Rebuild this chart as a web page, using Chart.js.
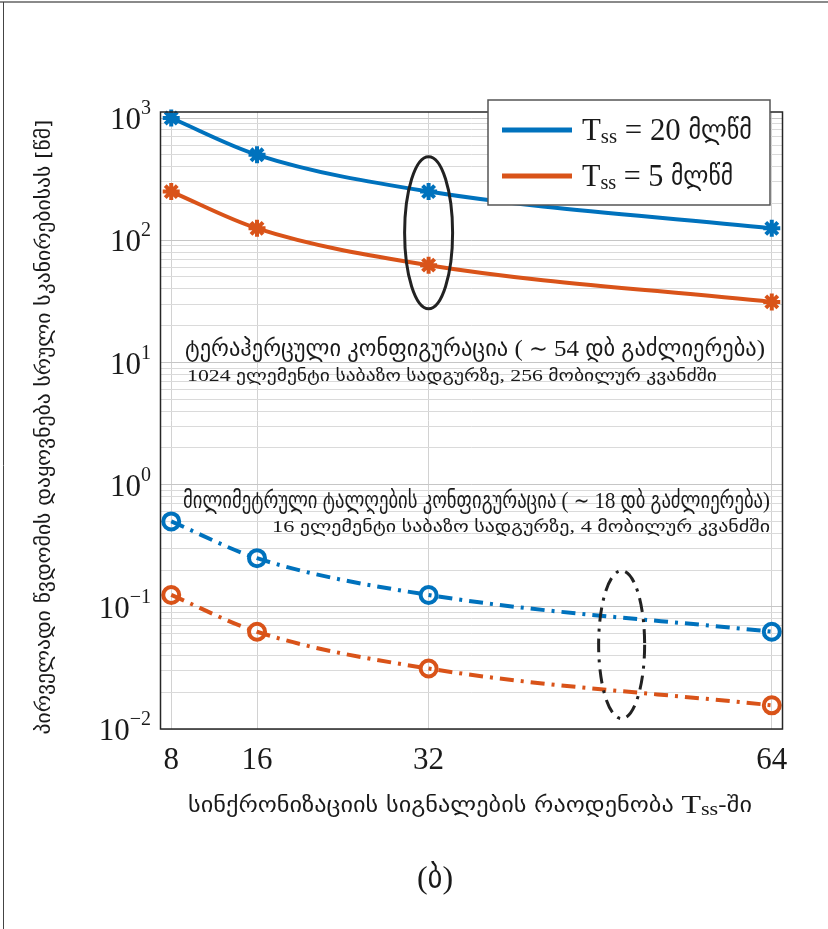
<!DOCTYPE html>
<html><head><meta charset="utf-8">
<script src="https://cdn.jsdelivr.net/npm/chart.js@4/dist/chart.umd.min.js"></script>
<style>html,body{margin:0;padding:0;background:#fff;}#wrap{position:relative;width:828px;height:929px;}</style>
</head><body><div id="wrap"><canvas id="c" width="828" height="929"></canvas></div>
<script>
// ---- data ----
const tssCounts = [8, 16, 32, 64];
const thz20ms = [1000, 500, 250, 125];
const thz5ms = [250, 125, 62.5, 31.25];
const mmw20ms = [0.5, 0.25, 0.125, 0.0625];
const mmw5ms = [0.125, 0.0625, 0.03125, 0.015625];
const yDecades = [-2, -1, 0, 1, 2, 3];
const yTickExponents = ['\u22122', '\u22121', '0', '1', '2', '3'];
const legendValues = ['20', '5'];
const legendUnit = 'მლწმ';

// ---- styles ----
const BLUE = '#0072BD', ORANGE = '#D95319', INK = '#1a1a1a';
const SERIF = "'Liberation Serif', 'DejaVu Sans Condensed', serif";
const GEO = "'DejaVu Sans Condensed', 'DejaVu Sans', sans-serif";
const DASHDOT = [14, 7, 3, 7];

function pts(ys) { return tssCounts.map((x, i) => ({ x: x, y: ys[i] })); }

function drawRuns(ctx, runs, x, y, width, align) {
  ctx.save();
  let total = 0;
  runs.forEach(r => { ctx.font = r.font; r.w = ctx.measureText(r.text).width; total += r.w; });
  const s = width ? width / total : 1;
  const drawnW = total * s;
  let x0 = align === 'center' ? x - drawnW / 2 : (align === 'right' ? x - drawnW : x);
  ctx.translate(x0, y);
  ctx.scale(s, 1);
  ctx.textBaseline = 'middle';
  ctx.textAlign = 'left';
  ctx.fillStyle = INK;
  let cx = 0;
  runs.forEach(r => { ctx.font = r.font; ctx.fillText(r.text, cx, r.dy || 0); cx += r.w; });
  ctx.restore();
}

const ellipseTHz = { x: 32, y: 115, rx: 24, ry: 76 };
const ellipseMMW = { x: 50, y: 0.049, rx: 23, ry: 74 };

const deco = {
  id: 'deco',
  beforeDraw(chart) {
    const ctx = chart.ctx;
    ctx.save();
    ctx.fillStyle = '#fff';
    ctx.fillRect(0, 0, chart.width, chart.height);
    ctx.strokeStyle = '#8a8a8a'; ctx.lineWidth = 2;
    ctx.beginPath(); ctx.moveTo(0, 2); ctx.lineTo(chart.width, 2); ctx.stroke();
    ctx.strokeStyle = '#444'; ctx.lineWidth = 1;
    ctx.beginPath(); ctx.moveTo(3.5, 2); ctx.lineTo(3.5, chart.height); ctx.stroke();
    ctx.restore();
  },
  afterDatasetsDraw(chart) {
    const ctx = chart.ctx, xs = chart.scales.x, ys = chart.scales.y;
    ctx.save();
    ctx.strokeStyle = '#222'; ctx.lineWidth = 3;
    ctx.beginPath();
    ctx.ellipse(xs.getPixelForValue(ellipseTHz.x), ys.getPixelForValue(ellipseTHz.y), ellipseTHz.rx, ellipseTHz.ry, 0, 0, Math.PI * 2);
    ctx.stroke();
    ctx.setLineDash([14, 7, 3, 7]);
    ctx.beginPath();
    ctx.ellipse(xs.getPixelForValue(ellipseMMW.x), ys.getPixelForValue(ellipseMMW.y), ellipseMMW.rx, ellipseMMW.ry, 0, 0, Math.PI * 2);
    ctx.stroke();
    ctx.restore();

    // y tick labels (10 with superscript exponent), placed by the log scale
    yDecades.forEach((d, i) => {
      const py = ys.getPixelForValue(Math.pow(10, d));
      drawRuns(ctx, [
        { text: '10', font: '31px ' + SERIF, dy: 3 },
        { text: yTickExponents[i], font: '20px ' + SERIF, dy: -9 }
      ], 151, py, 0, 'right');
    });

    drawRuns(ctx, [{ text: 'ტერაჰერცული კონფიგურაცია ( ∼ 54 დბ გაძლიერება)', font: '23px ' + SERIF }], 185, 350, 580, 'left');
    drawRuns(ctx, [{ text: '1024 ელემენტი საბაზო სადგურზე, 256 მობილურ კვანძში', font: '16px ' + SERIF }], 187, 377, 530, 'left');
    drawRuns(ctx, [{ text: 'მილიმეტრული ტალღების კონფიგურაცია ( ∼ 18 დბ გაძლიერება)', font: '23px ' + SERIF }], 183, 502, 587, 'left');
    drawRuns(ctx, [{ text: '16 ელემენტი საბაზო სადგურზე, 4 მობილურ კვანძში', font: '16px ' + SERIF }], 770, 528, 498, 'right');

    // x title
    drawRuns(ctx, [
      { text: 'სინქრონიზაციის სიგნალების რაოდენობა ', font: '22px ' + GEO },
      { text: 'T', font: '26px ' + SERIF },
      { text: 'ss', font: '18px ' + SERIF, dy: 4 },
      { text: '-ში', font: '22px ' + GEO }
    ], 188, 806, 564, 'left');
    // figure label
    drawRuns(ctx, [{ text: '(ბ)', font: '32px ' + SERIF }], 435, 880, 0, 'center');
    // y title
    ctx.save();
    ctx.translate(45, 427);
    ctx.rotate(-Math.PI / 2);
    drawRuns(ctx, [{ text: 'პირველადი წვდომის დაყოვნება სრული სკანირებისას [წმ]', font: '20px ' + GEO }], 0, 0, 615, 'center');
    ctx.restore();
  },
  afterDraw(chart) {
    const ctx = chart.ctx, a = chart.chartArea;
    ctx.save();
    ctx.strokeStyle = '#262626'; ctx.lineWidth = 1.5;
    ctx.strokeRect(a.left, a.top, a.right - a.left, a.bottom - a.top);
    // legend
    const L = { x: 488, y: 100, w: 282, h: 105 };
    ctx.fillStyle = '#fff';
    ctx.fillRect(L.x, L.y, L.w, L.h);
    ctx.strokeStyle = '#555'; ctx.lineWidth = 1.5;
    ctx.strokeRect(L.x, L.y, L.w, L.h);
    const rows = [{ c: BLUE, y: 130, w: 170 }, { c: ORANGE, y: 176, w: 151 }];
    rows.forEach((r, i) => {
      ctx.strokeStyle = r.c; ctx.lineWidth = 5;
      ctx.beginPath(); ctx.moveTo(502, r.y); ctx.lineTo(572, r.y); ctx.stroke();
      drawRuns(ctx, [
        { text: 'T', font: '31px ' + SERIF },
        { text: 'ss', font: '21px ' + SERIF, dy: 5 },
        { text: ' = ' + legendValues[i] + ' ', font: '31px ' + SERIF },
        { text: legendUnit, font: '27px ' + GEO }
      ], 582, r.y + 2, r.w, 'left');
    });
    ctx.restore();
  }
};

const lineBase = { borderWidth: 4, cubicInterpolationMode: 'monotone', clip: false, pointRadius: 8, pointBorderWidth: 3.5, pointHoverRadius: 8 };

new Chart(document.getElementById('c'), {
  type: 'line',
  data: {
    datasets: [
      Object.assign({}, lineBase, { label: 'THz 20', data: pts(thz20ms), borderColor: BLUE, pointStyle: 'star', pointRadius: 8.5, pointBorderWidth: 4, pointBorderColor: BLUE, pointBackgroundColor: BLUE }),
      Object.assign({}, lineBase, { label: 'THz 5', data: pts(thz5ms), borderColor: ORANGE, pointStyle: 'star', pointRadius: 8.5, pointBorderWidth: 4, pointBorderColor: ORANGE, pointBackgroundColor: ORANGE }),
      Object.assign({}, lineBase, { label: 'mmW 20', data: pts(mmw20ms), borderColor: BLUE, borderDash: DASHDOT, pointStyle: 'circle', pointRadius: 8, pointBorderWidth: 4, pointBorderColor: BLUE, pointBackgroundColor: 'rgba(0,0,0,0)' }),
      Object.assign({}, lineBase, { label: 'mmW 5', data: pts(mmw5ms), borderColor: ORANGE, borderDash: DASHDOT, pointStyle: 'circle', pointRadius: 8, pointBorderWidth: 4, pointBorderColor: ORANGE, pointBackgroundColor: 'rgba(0,0,0,0)' })
    ]
  },
  options: {
    responsive: false,
    animation: false,
    events: [],
    layout: { padding: { top: 112, right: 45.5, left: 0, bottom: 0 } },
    plugins: { legend: { display: false }, title: { display: false }, tooltip: { enabled: false } },
    scales: {
      x: {
        type: 'linear', min: 7, max: 65,
        afterBuildTicks: s => { s.ticks = tssCounts.map(v => ({ value: v })); },
        afterFit: s => { s.height = 200; },
        ticks: { font: { family: SERIF, size: 31 }, color: INK, padding: 13, autoSkip: false, maxRotation: 0, callback: v => String(v) },
        grid: { color: '#d2d2d2', lineWidth: 1, drawTicks: false },
        border: { display: false }
      },
      y: {
        type: 'logarithmic', min: 0.01, max: 1120,
        afterBuildTicks: s => {
          const t = [];
          yDecades.forEach(d => {
            t.push({ value: Math.pow(10, d), major: true });
            if (d < 3) for (let k = 2; k <= 9; k++) t.push({ value: k * Math.pow(10, d), major: false });
          });
          s.ticks = t;
        },
        afterFit: s => { s.width = 160.5; },
        ticks: { display: false, autoSkip: false },
        grid: { color: c => (c.tick && c.tick.major) ? '#c6c6c6' : '#dadada', lineWidth: 1, drawTicks: false },
        border: { display: false }
      }
    }
  },
  plugins: [deco]
});
</script>
</body></html>
